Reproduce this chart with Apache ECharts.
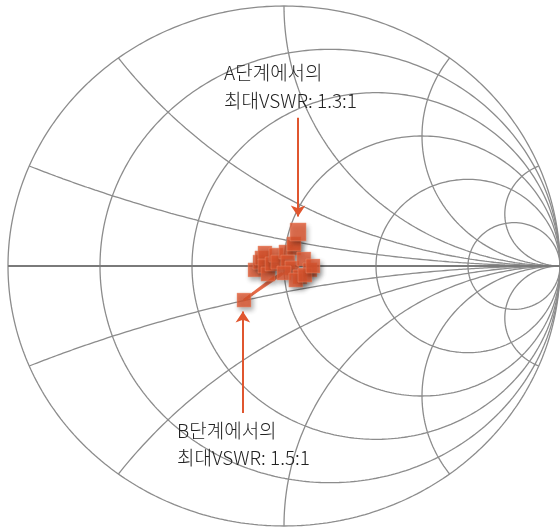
<!DOCTYPE html>
<html>
<head>
<meta charset="utf-8">
<script src="https://cdn.jsdelivr.net/npm/echarts@6/dist/echarts.min.js"></script>
<style>
  html, body { margin: 0; padding: 0; background: #fff; }
  #main { width: 560px; height: 532px; }
</style>
</head>
<body>
<div id="main"></div>
<script>
// Smith chart grid values
var resistanceValues = [0, 0.2, 0.5, 1, 2, 5];
var reactanceValues = [0.2, 0.5, 1, 2, 5];

// measured points, as reflection coefficient [re, im]
var clusterPoints = [
  [-0.105, -0.015], [-0.087, 0.015], [-0.080, 0.031], [-0.069, 0.050],
  [-0.069, 0.000], [-0.058, -0.031], [-0.043, 0.008], [-0.029, 0.042],
  [-0.022, 0.015], [0.007, 0.054], [0.036, 0.069], [0.036, 0.085],
  [0.014, 0.015], [0.029, -0.008], [0.000, -0.027], [0.072, 0.027],
  [0.094, -0.015], [0.058, -0.042], [0.043, -0.054], [0.076, -0.035],
  [0.105, 0.000]
];
var pointA = [0.051, 0.131];
var pointB = [-0.145, -0.131];
var trailEnds = [[-0.036, -0.042], [-0.022, -0.035], [-0.007, -0.027], [0.010, -0.020]];

var arrowA = [[0.051, 0.57], [0.051, 0.19]];
var arrowB = [[-0.149, -0.565], [-0.149, -0.175]];

var labelA = ['A단계에서의', '최대VSWR: 1.3:1'];
var labelB = ['B단계에서의', '최대VSWR: 1.5:1'];

var gridColor = '#8c8c8c';
var markColor = '#E0562F';

function gamma(r, x) {
  var d = (r + 1) * (r + 1) + x * x;
  return [(r * r + x * x - 1) / d, 2 * x / d];
}

var series = [];

// constant resistance circles
resistanceValues.forEach(function (r) {
  var pts = [[1, 0]];
  for (var i = 1; i < 400; i++) {
    var phi = -Math.PI / 2 + Math.PI * i / 400;
    pts.push(gamma(r, Math.tan(phi)));
  }
  pts.push([1, 0]);
  series.push({
    type: 'line', data: pts, showSymbol: false, silent: true, clip: false,
    lineStyle: { color: gridColor, width: 1.3 }, z: 1
  });
});

// constant reactance arcs
reactanceValues.forEach(function (x) {
  [x, -x].forEach(function (xv) {
    var pts = [];
    for (var i = 0; i < 300; i++) {
      var phi = Math.PI / 2 * i / 300;
      pts.push(gamma(Math.tan(phi), xv));
    }
    pts.push([1, 0]);
    series.push({
      type: 'line', data: pts, showSymbol: false, silent: true, clip: false,
      lineStyle: { color: gridColor, width: 1.3 }, z: 1
    });
  });
});

// real axis
series.push({
  type: 'line', data: [[-1, 0], [1, 0]], showSymbol: false, silent: true, clip: false,
  lineStyle: { color: '#7a7a7a', width: 2.2 }, z: 1
});

// trail from B into the cluster
series.push({
  type: 'lines', coordinateSystem: 'cartesian2d', silent: true, z: 3,
  lineStyle: { color: '#E46A48', width: 2.2, opacity: 0.85 },
  data: trailEnds.map(function (p) { return { coords: [pointB, p] }; })
});

var squareStyle = {
  color: markColor,
  borderColor: 'rgba(245,160,130,0.6)',
  borderWidth: 0.8,
  shadowBlur: 5,
  shadowColor: 'rgba(0,0,0,0.4)',
  shadowOffsetX: 2,
  shadowOffsetY: 3
};

series.push({
  type: 'scatter', symbol: 'rect', symbolSize: 14, data: clusterPoints,
  itemStyle: squareStyle, silent: true, z: 4
});
series.push({
  type: 'scatter', symbol: 'rect', symbolSize: [16, 18], data: [pointA],
  itemStyle: squareStyle, silent: true, z: 5
});
series.push({
  type: 'scatter', symbol: 'rect', symbolSize: 14, data: [pointB],
  itemStyle: squareStyle, silent: true, z: 5
});

// annotation arrows
series.push({
  type: 'lines', coordinateSystem: 'cartesian2d', silent: true, z: 6,
  symbol: ['none', 'arrow'], symbolSize: 11,
  lineStyle: { color: markColor, width: 2, opacity: 1 },
  data: [{ coords: arrowA }, { coords: arrowB }]
});

function textEl(str, x, y) {
  return {
    type: 'text', x: x, y: y, silent: true, z: 10,
    style: {
      text: str, fill: '#222', fontSize: 19, fontWeight: 300,
      fontFamily: 'Noto Sans CJK KR', textVerticalAlign: 'middle'
    }
  };
}

var chart = echarts.init(document.getElementById('main'));
chart.setOption({
  animation: false,
  backgroundColor: '#fff',
  grid: { left: 8, right: 0, top: 6, bottom: 6 },
  xAxis: { type: 'value', min: -1, max: 1, show: false },
  yAxis: { type: 'value', min: -1, max: 1, show: false },
  series: series,
  graphic: [
    textEl(labelA[0], 224, 73),
    textEl(labelA[1], 224, 101),
    textEl(labelB[0], 177, 431),
    textEl(labelB[1], 177, 458)
  ]
});
</script>
</body>
</html>
